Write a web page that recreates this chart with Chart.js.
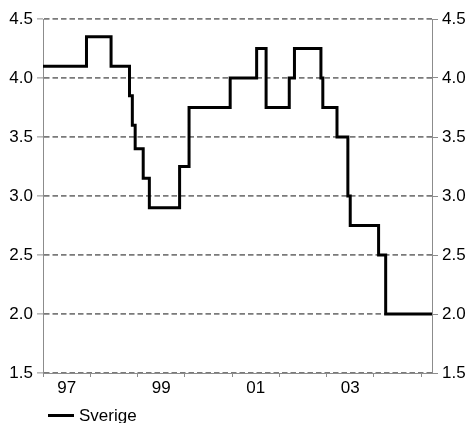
<!DOCTYPE html>
<html>
<head>
<meta charset="utf-8">
<script src="https://cdn.jsdelivr.net/npm/chart.js@4/dist/chart.umd.min.js"></script>
<style>
  html, body { margin: 0; padding: 0; background: #fff; }
  #wrap { position: relative; width: 469px; height: 423px; overflow: hidden; }
  #legend { position: absolute; left: 48px; top: 408px; height: 15px; display: flex; align-items: center;
            font-family: "Liberation Sans", Arial, sans-serif; font-size: 17px; line-height: 15px; color: #000; }
  #legend .sw { width: 26px; height: 3px; background: #000; margin-right: 5px; }
</style>
</head>
<body>
<div id="wrap">
  <canvas id="c"></canvas>
  <div id="legend"><span class="sw"></span><span>Sverige</span></div>
</div>
<script>
// Data (decimal year of rate change, rate in %)
const seriesName = 'Sverige';
const dates = [1997.0, 1997.92, 1998.44, 1998.83, 1998.89, 1998.95, 1999.12, 1999.25, 1999.89, 2000.09, 2000.96, 2001.52, 2001.72, 2002.21, 2002.32, 2002.88, 2002.92, 2003.22, 2003.45, 2003.5, 2004.1, 2004.25, 2005.23];
const rates = [4.10, 4.35, 4.10, 3.85, 3.60, 3.40, 3.15, 2.90, 3.25, 3.75, 4.00, 4.25, 3.75, 4.00, 4.25, 4.00, 3.75, 3.50, 3.00, 2.75, 2.50, 2.00, 2.00];
const yearTicks = [1997, 1998, 1999, 2000, 2001, 2002, 2003, 2004, 2005];
const labelPositions = [1997.5, 1999.5, 2001.5, 2003.5];
const labelTexts = ['97', '99', '01', '03'];
const yMin = 1.5, yMax = 4.5, yStep = 0.5;
const xMin = 1997, xMax = 2005.23;

const gray = '#7a7a7a';
const axisGray = '#8c8c8c';
const font = { family: '"Liberation Sans", Arial, sans-serif', size: 17 };

const points = dates.map((d, i) => ({ x: d, y: rates[i] }));
const xTickValues = yearTicks.concat(labelPositions).sort((a, b) => a - b);

new Chart(document.getElementById('c'), {
  type: 'line',
  data: {
    datasets: [{
      label: seriesName,
      data: points,
      stepped: 'before',
      borderColor: '#000',
      borderWidth: 3,
      pointRadius: 0,
      fill: false,
      borderJoinStyle: 'miter',
      borderCapStyle: 'butt'
    }]
  },
  options: {
    responsive: true,
    maintainAspectRatio: false,
    animation: false,
    layout: { padding: { top: 19, bottom: 25, left: 0, right: 0 } },
    plugins: { legend: { display: false }, tooltip: { enabled: false } },
    scales: {
      x: {
        type: 'linear',
        min: xMin, max: xMax,
        afterBuildTicks: (s) => { s.ticks = xTickValues.map(v => ({ value: v })); },
        afterFit: (s) => { s.height = 25; },
        ticks: {
          autoSkip: false, maxRotation: 0, color: '#000', font: font, padding: 1,
          callback: (v) => { const i = labelPositions.indexOf(v); return i >= 0 ? labelTexts[i] : ''; }
        },
        grid: {
          drawOnChartArea: false, drawTicks: true, tickLength: 4, tickWidth: 1,
          tickColor: (ctx) => (ctx.tick && Number.isInteger(ctx.tick.value)) ? axisGray : 'rgba(0,0,0,0)'
        },
        border: { display: true, color: axisGray, width: 1 }
      },
      y: {
        position: 'left',
        min: yMin, max: yMax,
        afterFit: (s) => { s.width = 43; },
        ticks: { stepSize: yStep, color: '#000', font: font, padding: 4, callback: (v) => Number(v).toFixed(1) },
        grid: { color: gray, lineWidth: 1.8, tickLength: 6, tickColor: axisGray, tickWidth: 1, tickBorderDash: [] },
        border: { display: true, color: axisGray, width: 1, dash: [5.5, 3] }
      },
      y2: {
        position: 'right',
        display: true,
        min: yMin, max: yMax,
        afterFit: (s) => { s.width = 37; },
        ticks: { stepSize: yStep, color: '#000', font: font, padding: 4, callback: (v) => Number(v).toFixed(1) },
        grid: { drawOnChartArea: false, tickLength: 6, tickColor: axisGray, tickWidth: 1 },
        border: { display: true, color: axisGray, width: 1 }
      }
    }
  }
});
</script>
</body>
</html>
